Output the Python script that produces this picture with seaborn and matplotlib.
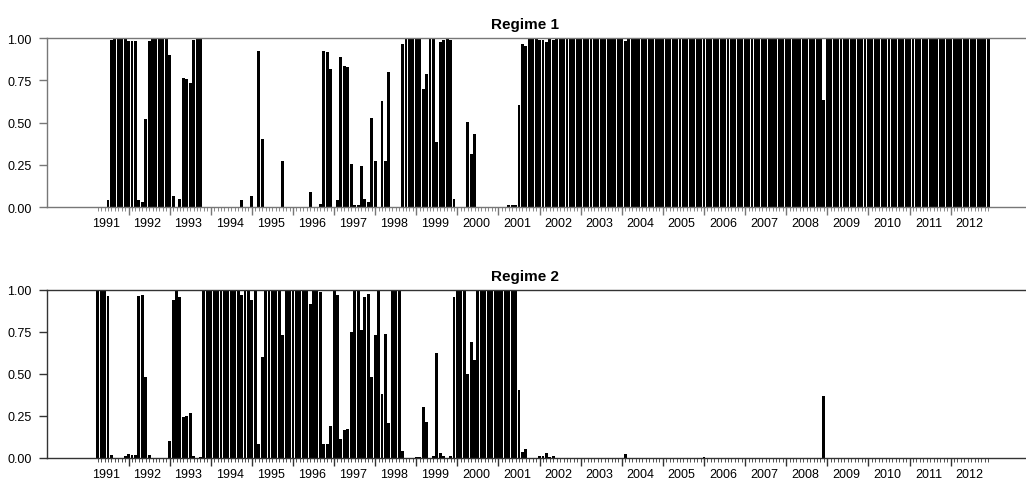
import numpy as np
import pandas as pd
import seaborn as sns
import matplotlib.pyplot as plt

# Smoothed regime probabilities, monthly observations from Apr 1991 to Dec 2012
start_year = 1991
start_month = 4

regime1 = [
    # 1991 (Apr-Dec)
    0.00, 0.00, 0.00, 0.04, 0.99, 1.00, 1.00, 1.00, 0.995,
    # 1992
    0.98, 0.985, 0.985, 0.04, 0.03, 0.52, 0.985, 1.00, 1.00, 1.00, 1.00, 1.00,
    # 1993
    0.90, 0.065, 0.00, 0.05, 0.765, 0.755, 0.735, 0.99, 1.00, 0.995, 0.00, 0.00,
    # 1994
    0.00, 0.00, 0.00, 0.00, 0.00, 0.00, 0.00, 0.00, 0.00, 0.04, 0.00, 0.00,
    # 1995
    0.065, 0.00, 0.925, 0.40, 0.00, 0.00, 0.00, 0.00, 0.00, 0.275, 0.00, 0.00,
    # 1996
    0.00, 0.00, 0.00, 0.00, 0.00, 0.09, 0.00, 0.00, 0.02, 0.925, 0.915, 0.815,
    # 1997
    0.00, 0.04, 0.89, 0.835, 0.83, 0.255, 0.015, 0.015, 0.245, 0.05, 0.03, 0.525,
    # 1998
    0.275, 0.00, 0.625, 0.27, 0.80, 0.00, 0.00, 0.00, 0.965, 1.00, 1.00, 1.00,
    # 1999
    0.995, 0.995, 0.70, 0.79, 1.00, 0.995, 0.385, 0.975, 0.99, 1.00, 0.99, 0.05,
    # 2000
    0.00, 0.00, 0.00, 0.505, 0.315, 0.43, 0.00, 0.00, 0.00, 0.00, 0.00, 0.00,
    # 2001
    0.00, 0.00, 0.00, 0.01, 0.01, 0.01, 0.605, 0.965, 0.955, 1.00, 1.00, 1.00,
    # 2002
    0.99, 0.99, 0.975, 0.995, 0.99, 1.00, 1.00, 1.00, 1.00, 1.00, 1.00, 1.00,
    # 2003
    1.00, 1.00, 1.00, 1.00, 1.00, 1.00, 1.00, 1.00, 1.00, 1.00, 1.00, 1.00,
    # 2004
    1.00, 0.98, 1.00, 1.00, 1.00, 1.00, 1.00, 1.00, 1.00, 1.00, 1.00, 1.00,
    # 2005
    1.00, 1.00, 1.00, 1.00, 1.00, 1.00, 1.00, 1.00, 1.00, 1.00, 1.00, 1.00,
    # 2006
    0.995, 1.00, 1.00, 1.00, 1.00, 1.00, 1.00, 1.00, 1.00, 1.00, 1.00, 1.00,
    # 2007
    1.00, 1.00, 1.00, 1.00, 1.00, 1.00, 1.00, 1.00, 1.00, 1.00, 1.00, 1.00,
    # 2008
    1.00, 1.00, 1.00, 1.00, 1.00, 1.00, 1.00, 1.00, 1.00, 1.00, 1.00, 0.635,
    # 2009
    1.00, 1.00, 1.00, 1.00, 1.00, 1.00, 1.00, 1.00, 1.00, 1.00, 1.00, 1.00,
    # 2010
    1.00, 1.00, 1.00, 1.00, 1.00, 1.00, 1.00, 1.00, 1.00, 1.00, 1.00, 1.00,
    # 2011
    1.00, 1.00, 1.00, 1.00, 1.00, 1.00, 1.00, 1.00, 1.00, 1.00, 1.00, 1.00,
    # 2012
    1.00, 1.00, 1.00, 1.00, 1.00, 1.00, 1.00, 1.00, 1.00, 1.00, 1.00, 1.00,
]

regime2 = [
    # 1991 (Apr-Dec)
    1.00, 1.00, 1.00, 0.96, 0.015, 0.00, 0.00, 0.00, 0.01,
    # 1992
    0.02, 0.015, 0.015, 0.96, 0.97, 0.48, 0.015, 0.00, 0.00, 0.00, 0.00, 0.00,
    # 1993
    0.10, 0.935, 1.00, 0.955, 0.24, 0.25, 0.265, 0.01, 0.00, 0.005, 1.00, 1.00,
    # 1994
    1.00, 1.00, 1.00, 1.00, 1.00, 1.00, 1.00, 1.00, 1.00, 0.965, 1.00, 1.00,
    # 1995
    0.94, 1.00, 0.08, 0.60, 1.00, 1.00, 1.00, 1.00, 1.00, 0.73, 1.00, 1.00,
    # 1996
    1.00, 1.00, 1.00, 1.00, 1.00, 0.915, 1.00, 1.00, 0.985, 0.08, 0.085, 0.19,
    # 1997
    1.00, 0.965, 0.11, 0.165, 0.17, 0.75, 0.99, 0.99, 0.76, 0.955, 0.975, 0.48,
    # 1998
    0.73, 1.00, 0.38, 0.735, 0.205, 1.00, 1.00, 1.00, 0.04, 0.00, 0.00, 0.00,
    # 1999
    0.005, 0.005, 0.30, 0.21, 0.00, 0.01, 0.62, 0.03, 0.01, 0.00, 0.01, 0.955,
    # 2000
    1.00, 1.00, 1.00, 0.50, 0.69, 0.58, 1.00, 1.00, 1.00, 1.00, 1.00, 1.00,
    # 2001
    1.00, 1.00, 1.00, 0.99, 0.99, 0.99, 0.40, 0.035, 0.05, 0.00, 0.00, 0.00,
    # 2002
    0.01, 0.01, 0.03, 0.005, 0.01, 0.00, 0.00, 0.00, 0.00, 0.00, 0.00, 0.00,
    # 2003
    0.00, 0.00, 0.00, 0.00, 0.00, 0.00, 0.00, 0.00, 0.00, 0.00, 0.00, 0.00,
    # 2004
    0.00, 0.02, 0.00, 0.00, 0.00, 0.00, 0.00, 0.00, 0.00, 0.00, 0.00, 0.00,
    # 2005
    0.00, 0.00, 0.00, 0.00, 0.00, 0.00, 0.00, 0.00, 0.00, 0.00, 0.00, 0.00,
    # 2006
    0.005, 0.00, 0.00, 0.00, 0.00, 0.00, 0.00, 0.00, 0.00, 0.00, 0.00, 0.00,
    # 2007
    0.00, 0.00, 0.00, 0.00, 0.00, 0.00, 0.00, 0.00, 0.00, 0.00, 0.00, 0.00,
    # 2008
    0.00, 0.00, 0.00, 0.00, 0.00, 0.00, 0.00, 0.00, 0.00, 0.00, 0.00, 0.365,
    # 2009
    0.00, 0.00, 0.00, 0.00, 0.00, 0.00, 0.00, 0.00, 0.00, 0.00, 0.00, 0.00,
    # 2010
    0.00, 0.00, 0.00, 0.00, 0.00, 0.00, 0.00, 0.00, 0.00, 0.00, 0.00, 0.00,
    # 2011
    0.00, 0.00, 0.00, 0.00, 0.00, 0.00, 0.00, 0.00, 0.00, 0.00, 0.00, 0.00,
    # 2012
    0.00, 0.00, 0.00, 0.00, 0.00, 0.00, 0.00, 0.00, 0.00, 0.00, 0.00, 0.00,
]

years = list(range(1991, 2013))
yticks = [0.0, 0.25, 0.50, 0.75, 1.0]
titles = ['Regime 1', 'Regime 2']

# observation index, and where each year starts / sits
obs = np.arange(len(regime1))
df = pd.DataFrame({'obs': obs, 'Regime 1': regime1, 'Regime 2': regime2})
month_of_year = (start_month - 1 + obs) % 12
jan_pos = obs[month_of_year == 0]
year_centers = [(y - start_year) * 12 - (start_month - 1) + 5.5 for y in years]

sns.set_style('white')
plt.rcParams['font.family'] = ['Liberation Sans', 'DejaVu Sans']
plt.rcParams['text.color'] = 'black'
plt.rcParams['xtick.labelcolor'] = 'black'
plt.rcParams['ytick.labelcolor'] = 'black'

fig = plt.figure(figsize=(10.26, 4.85), dpi=100)
ax1 = fig.add_axes([0.0455, 0.571, 0.9545, 0.3485])
ax2 = fig.add_axes([0.0455, 0.054, 0.9545, 0.347])

spine_cols = ['#777777', '#333333']

for ax, col, sc in zip([ax1, ax2], titles, spine_cols):
    sns.barplot(data=df, x='obs', y=col, color='black', width=0.85,
                native_scale=True, errorbar=None, saturation=1,
                edgecolor='none', linewidth=0, ax=ax)
    ax.set_xlim(-14.9, 271.0)
    ax.set_ylim(0, 1)
    ax.set_xlabel('')
    ax.set_ylabel('')

    ax.spines['right'].set_visible(False)
    for s in ['top', 'left', 'bottom']:
        ax.spines[s].set_color(sc)
        ax.spines[s].set_linewidth(1)

    ax.set_yticks(yticks)
    ax.set_yticklabels([f'{v:.2f}' for v in yticks])
    ax.tick_params(axis='y', left=True, direction='out', length=6, width=1,
                   pad=5, labelsize=9, color=sc, labelcolor='black')

    ax.set_xticks(jan_pos)
    ax.set_xticklabels([])
    ax.set_xticks(obs, minor=True)
    ax.tick_params(axis='x', which='major', bottom=True, direction='out',
                   length=6, width=1, color=sc)
    ax.tick_params(axis='x', which='minor', bottom=True, direction='out',
                   length=3, width=0.6, color=sc)

    sec = ax.secondary_xaxis('bottom')
    sec.set_xticks(year_centers, labels=[str(y) for y in years])
    sec.tick_params(length=0, pad=7, labelsize=9, labelcolor='black')
    sec.spines['bottom'].set_visible(False)

    ax.set_title(col, fontsize=11, fontweight='bold', color='black',
                 x=(525 - 46.7) / 979.3, pad=7)

fig.savefig('out.png', dpi=100)
